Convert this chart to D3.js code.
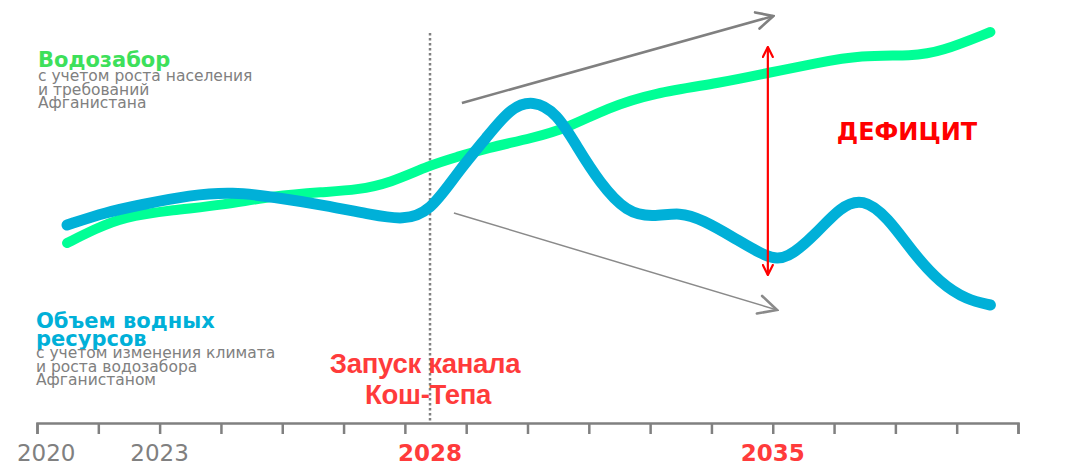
<!DOCTYPE html>
<html>
<head>
<meta charset="utf-8">
<script src="https://cdn.jsdelivr.net/npm/d3@7"></script>
<style>
  body { margin: 0; background: #fff; }
  svg { display: block; font-family: "DejaVu Sans", Verdana, sans-serif; }
</style>
</head>
<body>
<svg id="plot"></svg>
<script>
// x in axis-tick units (17 ticks, 0..16), y in arbitrary water units
const intakeX = [0.49, 0.95, 1.40, 2.22, 3.03, 3.85, 4.67, 5.22, 5.76, 6.41, 6.85, 7.34, 8.09, 8.65, 9.30, 10.05, 11.14, 11.91, 12.72, 13.43, 14.29, 14.73, 15.55];
const intakeY = [45, 48.5, 51.5, 53.25, 54.5, 56.75, 57.75, 58.25, 60, 64.5, 66.5, 68.75, 71.25, 73.75, 78.75, 82.5, 85, 87.5, 90, 92, 91.75, 92.75, 97.75];

const resourceX = [0.49, 1.14, 1.68, 2.50, 3.20, 3.85, 4.67, 5.48, 5.97, 6.41, 6.85, 7.34, 7.72, 8.09, 8.48, 8.81, 9.18, 9.62, 10.05, 10.49, 10.86, 11.35, 11.91, 12.23, 12.72, 13.10, 13.47, 13.87, 14.29, 14.73, 15.17, 15.55];
const resourceY = [49.5, 52.75, 54.5, 57, 57.75, 56.5, 54.5, 52, 50.75, 52.75, 62.5, 71.5, 78.75, 80.75, 77.5, 69, 60, 52.5, 51.5, 52.75, 50.75, 46.5, 41.25, 40.75, 47.5, 54, 56.25, 51.5, 42.5, 35, 30.75, 29.5];

const tickIdx = d3.range(0, 17);
const yearLabels = ["2020", "2023", "2028", "2035"];
const yearPos = [0.15, 2, 6.41, 12];
const yearBold = [false, false, true, true];

const launchX = 6.41;
const deficitX = 11.92, deficitTop = 94, deficitBottom = 37;
const trendUp = [[6.93, 80], [12.01, 101.75]];
const trendDown = [[6.80, 52.5], [12.07, 28.25]];

const W = 1071, H = 466;
const svg = d3.select("#plot").attr("width", W).attr("height", H);

const x = d3.scaleLinear().domain([0, 16]).range([37, 1018]);
const y = d3.scaleLinear().domain([0, 100]).range([423, 23]);

// markers
const defs = svg.append("defs");
function chevron(id, color, w, size) {
    defs.append("marker")
        .attr("id", id)
        .attr("viewBox", "0 0 12 12")
        .attr("refX", 11).attr("refY", 6)
        .attr("markerUnits", "userSpaceOnUse")
        .attr("markerWidth", size).attr("markerHeight", size)
        .attr("orient", "auto-start-reverse")
        .append("path")
        .attr("d", "M1,1 L11,6 L1,11")
        .attr("fill", "none")
        .attr("stroke", color)
        .attr("stroke-width", w)
        .attr("stroke-linecap", "round");
}
chevron("gArrow", "#808080", 1.6, 20);
chevron("gArrowThin", "#8a8a8a", 1.4, 22);
chevron("rArrow", "#ff0000", 2.2, 12);

// axis
const axis = d3.axisBottom(x).tickValues(tickIdx).tickFormat("").tickSize(11).tickSizeOuter(11);
const ax = svg.append("g").attr("transform", `translate(0, ${y(0)})`).call(axis);
ax.select(".domain").attr("stroke", "#808080").attr("stroke-width", 2.5);
ax.selectAll(".tick line").attr("stroke", "#808080").attr("stroke-width", 2.5);

svg.append("g").selectAll("text")
    .data(yearLabels)
    .join("text")
    .attr("x", (d, i) => x(yearPos[i]))
    .attr("y", 461)
    .attr("text-anchor", "middle")
    .attr("font-size", 23)
    .attr("font-weight", (d, i) => yearBold[i] ? "bold" : "normal")
    .attr("fill", (d, i) => yearBold[i] ? "#ff3b3b" : "#808080")
    .text(d => d);

// canal launch line
svg.append("line")
    .attr("x1", x(launchX)).attr("x2", x(launchX))
    .attr("y1", y(97.5)).attr("y2", y(0))
    .attr("stroke", "#808080").attr("stroke-width", 2.5)
    .attr("stroke-dasharray", "2.5,2.5");

// trend arrows
svg.append("line")
    .attr("x1", x(trendUp[0][0])).attr("y1", y(trendUp[0][1]))
    .attr("x2", x(trendUp[1][0])).attr("y2", y(trendUp[1][1]))
    .attr("stroke", "#808080").attr("stroke-width", 2.5)
    .attr("marker-end", "url(#gArrow)");
svg.append("line")
    .attr("x1", x(trendDown[0][0])).attr("y1", y(trendDown[0][1]))
    .attr("x2", x(trendDown[1][0])).attr("y2", y(trendDown[1][1]))
    .attr("stroke", "#8a8a8a").attr("stroke-width", 1.5)
    .attr("marker-end", "url(#gArrowThin)");

// series
const line = d3.line().x(d => x(d[0])).y(d => y(d[1])).curve(d3.curveBasis);
svg.append("path")
    .datum(intakeX.map((v, i) => [v, intakeY[i]]))
    .attr("d", line)
    .attr("fill", "none").attr("stroke", "#00ff96")
    .attr("stroke-width", 10).attr("stroke-linecap", "round");
svg.append("path")
    .datum(resourceX.map((v, i) => [v, resourceY[i]]))
    .attr("d", line)
    .attr("fill", "none").attr("stroke", "#00b0d8")
    .attr("stroke-width", 11).attr("stroke-linecap", "round");

// deficit arrow
svg.append("line")
    .attr("x1", x(deficitX)).attr("x2", x(deficitX))
    .attr("y1", y(deficitTop)).attr("y2", y(deficitBottom))
    .attr("stroke", "#ff0000").attr("stroke-width", 2.2)
    .attr("marker-start", "url(#rArrow)")
    .attr("marker-end", "url(#rArrow)");

svg.append("text")
    .attr("x", 907).attr("y", 140)
    .attr("text-anchor", "middle")
    .attr("font-size", 24).attr("font-weight", "bold")
    .attr("fill", "#ff0000")
    .text("ДЕФИЦИТ");

// launch label
const launch = svg.append("text")
    .attr("text-anchor", "middle")
    .attr("font-family", "'Liberation Sans', Arial, sans-serif")
    .attr("font-size", 27.5).attr("font-weight", "bold")
    .attr("letter-spacing", -0.3)
    .attr("fill", "#ff3b3b");
launch.append("tspan").attr("x", 425).attr("y", 373).text("Запуск канала");
launch.append("tspan").attr("x", 428).attr("y", 404).text("Кош-Тепа");

// legends
function legend(x0, lines, color, titleY, titleGap, subLines, subY) {
    const g = svg.append("g");
    g.selectAll("text.t")
        .data(lines)
        .join("text")
        .attr("class", "t")
        .attr("x", x0).attr("y", (d, i) => titleY + i * titleGap)
        .attr("font-size", 21).attr("font-weight", "bold")
        .attr("fill", color)
        .text(d => d);
    g.selectAll("text.s")
        .data(subLines)
        .join("text")
        .attr("class", "s")
        .attr("x", x0).attr("y", (d, i) => subY + i * 13.5)
        .attr("font-size", 15.5)
        .attr("fill", "#808080")
        .text(d => d);
}
legend(38, ["Водозабор"], "#3de05a", 67, 0,
    ["с учетом роста населения", "и требований", "Афганистана"], 81);
legend(36, ["Объем водных", "ресурсов"], "#00b0d8", 328, 18,
    ["с учетом изменения климата", "и роста водозабора", "Афганистаном"], 358);
</script>
</body>
</html>
